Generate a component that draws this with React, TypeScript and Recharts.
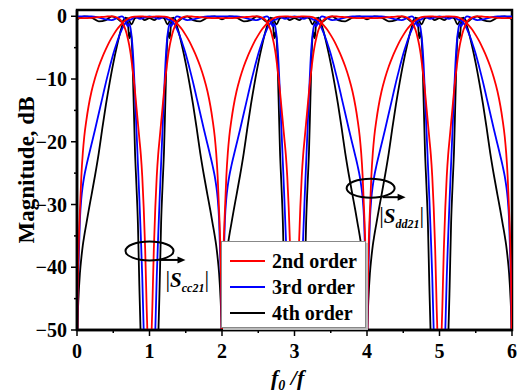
import React from 'react';
import { LineChart, Line, XAxis, YAxis, ReferenceArea, ReferenceDot } from 'recharts';

// f0/f sample points, |Sdd21| curves (nulls at 0, 2, 4, 6)
const ddX = [
  0, 0.005, 0.01, 0.02, 0.04, 0.06, 0.08, 0.1, 0.13, 0.16, 0.2, 0.25, 0.3, 0.35, 0.4, 0.45, 0.5, 0.55, 0.6, 0.65, 0.7, 0.75, 0.8, 0.87, 0.93, 1,
  1.07, 1.13, 1.2, 1.25, 1.3, 1.35, 1.4, 1.45, 1.5, 1.55, 1.6, 1.65, 1.7, 1.75, 1.8, 1.84, 1.87, 1.9, 1.92, 1.94, 1.96, 1.98, 1.99, 1.995, 2,
  2.005, 2.01, 2.02, 2.04, 2.06, 2.08, 2.1, 2.13, 2.16, 2.2, 2.25, 2.3, 2.35, 2.4, 2.45, 2.5, 2.55, 2.6, 2.65, 2.7, 2.75, 2.8, 2.87, 2.93, 3,
  3.07, 3.13, 3.2, 3.25, 3.3, 3.35, 3.4, 3.45, 3.5, 3.55, 3.6, 3.65, 3.7, 3.75, 3.8, 3.84, 3.87, 3.9, 3.92, 3.94, 3.96, 3.98, 3.99, 3.995, 4,
  4.005, 4.01, 4.02, 4.04, 4.06, 4.08, 4.1, 4.13, 4.16, 4.2, 4.25, 4.3, 4.35, 4.4, 4.45, 4.5, 4.55, 4.6, 4.65, 4.7, 4.75, 4.8, 4.87, 4.93, 5,
  5.07, 5.13, 5.2, 5.25, 5.3, 5.35, 5.4, 5.45, 5.5, 5.55, 5.6, 5.65, 5.7, 5.75, 5.8, 5.84, 5.87, 5.9, 5.92, 5.94, 5.96, 5.98, 5.99, 5.995, 6,
];

const dd2nd = [
  -70, -52, -45, -38, -31, -25.5, -21.8, -19.2, -16.5, -14.3, -12, -9.8, -8, -6.5, -5.2, -4, -3, -2.1, -1.4, -0.8, -0.4, -0.15, -0.05, 0, -0.05, -0.1,
  -0.05, 0, -0.05, -0.15, -0.4, -0.8, -1.4, -2.1, -3, -4, -5.2, -6.5, -8, -9.8, -12, -14.3, -16.5, -19.2, -21.8, -25.5, -31, -38, -45, -52, -70,
  -52, -45, -38, -31, -25.5, -21.8, -19.2, -16.5, -14.3, -12, -9.8, -8, -6.5, -5.2, -4, -3, -2.1, -1.4, -0.8, -0.4, -0.15, -0.05, 0, -0.05, -0.1,
  -0.05, 0, -0.05, -0.15, -0.4, -0.8, -1.4, -2.1, -3, -4, -5.2, -6.5, -8, -9.8, -12, -14.3, -16.5, -19.2, -21.8, -25.5, -31, -38, -45, -52, -70,
  -52, -45, -38, -31, -25.5, -21.8, -19.2, -16.5, -14.3, -12, -9.8, -8, -6.5, -5.2, -4, -3, -2.1, -1.4, -0.8, -0.4, -0.15, -0.05, 0, -0.05, -0.1,
  -0.05, 0, -0.05, -0.15, -0.4, -0.8, -1.4, -2.1, -3, -4, -5.2, -6.5, -8, -9.8, -12, -14.3, -16.5, -19.2, -21.8, -25.5, -31, -38, -45, -52, -70,
];

const dd3rd = [
  -70, -50, -45, -40, -32.5, -29, -27, -25.5, -23.8, -22.3, -20.4, -18, -15.5, -13, -10.5, -8.2, -6, -4.2, -2.6, -1.4, -0.7, -0.5, -0.1, -0.4, -0.2, 0,
  -0.2, -0.4, -0.1, -0.5, -0.7, -1.4, -2.6, -4.2, -6, -8.2, -10.5, -13, -15.5, -18, -20.4, -22.3, -23.8, -25.5, -27, -29, -32.5, -40, -45, -50, -70,
  -50, -45, -40, -32.5, -29, -27, -25.5, -23.8, -22.3, -20.4, -18, -15.5, -13, -10.5, -8.2, -6, -4.2, -2.6, -1.4, -0.7, -0.5, -0.1, -0.4, -0.2, 0,
  -0.2, -0.4, -0.1, -0.5, -0.7, -1.4, -2.6, -4.2, -6, -8.2, -10.5, -13, -15.5, -18, -20.4, -22.3, -23.8, -25.5, -27, -29, -32.5, -40, -45, -50, -70,
  -50, -45, -40, -32.5, -29, -27, -25.5, -23.8, -22.3, -20.4, -18, -15.5, -13, -10.5, -8.2, -6, -4.2, -2.6, -1.4, -0.7, -0.5, -0.1, -0.4, -0.2, 0,
  -0.2, -0.4, -0.1, -0.5, -0.7, -1.4, -2.6, -4.2, -6, -8.2, -10.5, -13, -15.5, -18, -20.4, -22.3, -23.8, -25.5, -27, -29, -32.5, -40, -45, -50, -70,
];

const dd4th = [
  -70, -51, -48, -45, -41, -38.5, -36.5, -35, -33, -31, -28.5, -25.3, -21.8, -17.8, -14, -10.6, -7.5, -4.8, -2.4, -0.7, -0.3, -1.3, -0.3, -0.1, -0.6, -0.3,
  -0.6, -0.1, -0.3, -1.3, -0.3, -0.7, -2.4, -4.8, -7.5, -10.6, -14, -17.8, -21.8, -25.3, -28.5, -31, -33, -35, -36.5, -38.5, -41, -45, -48, -51, -70,
  -51, -48, -45, -41, -38.5, -36.5, -35, -33, -31, -28.5, -25.3, -21.8, -17.8, -14, -10.6, -7.5, -4.8, -2.4, -0.7, -0.3, -1.3, -0.3, -0.1, -0.6, -0.3,
  -0.6, -0.1, -0.3, -1.3, -0.3, -0.7, -2.4, -4.8, -7.5, -10.6, -14, -17.8, -21.8, -25.3, -28.5, -31, -33, -35, -36.5, -38.5, -41, -45, -48, -51, -70,
  -51, -48, -45, -41, -38.5, -36.5, -35, -33, -31, -28.5, -25.3, -21.8, -17.8, -14, -10.6, -7.5, -4.8, -2.4, -0.7, -0.3, -1.3, -0.3, -0.1, -0.6, -0.3,
  -0.6, -0.1, -0.3, -1.3, -0.3, -0.7, -2.4, -4.8, -7.5, -10.6, -14, -17.8, -21.8, -25.3, -28.5, -31, -33, -35, -36.5, -38.5, -41, -45, -48, -51, -70,
];

// f0/f sample points, |Scc21| curves (nulls at 1, 3, 5)
const ccX = [
  0, 0.1, 0.2, 0.3, 0.4, 0.48, 0.55, 0.62, 0.67, 0.7, 0.72, 0.74, 0.76, 0.78, 0.8, 0.82, 0.84, 0.86, 0.88, 0.9, 0.92, 0.94, 0.96, 0.98, 1,
  1.02, 1.04, 1.06, 1.08, 1.1, 1.12, 1.14, 1.16, 1.18, 1.2, 1.22, 1.24, 1.26, 1.28, 1.3, 1.33, 1.38, 1.45, 1.52, 1.6, 1.7, 1.8, 1.9, 2,
  2.1, 2.2, 2.3, 2.4, 2.48, 2.55, 2.62, 2.67, 2.7, 2.72, 2.74, 2.76, 2.78, 2.8, 2.82, 2.84, 2.86, 2.88, 2.9, 2.92, 2.94, 2.96, 2.98, 3,
  3.02, 3.04, 3.06, 3.08, 3.1, 3.12, 3.14, 3.16, 3.18, 3.2, 3.22, 3.24, 3.26, 3.28, 3.3, 3.33, 3.38, 3.45, 3.52, 3.6, 3.7, 3.8, 3.9, 4,
  4.1, 4.2, 4.3, 4.4, 4.48, 4.55, 4.62, 4.67, 4.7, 4.72, 4.74, 4.76, 4.78, 4.8, 4.82, 4.84, 4.86, 4.88, 4.9, 4.92, 4.94, 4.96, 4.98, 5,
  5.02, 5.04, 5.06, 5.08, 5.1, 5.12, 5.14, 5.16, 5.18, 5.2, 5.22, 5.24, 5.26, 5.28, 5.3, 5.33, 5.38, 5.45, 5.52, 5.6, 5.7, 5.8, 5.9, 6,
];

const cc2nd = [
  -0.3, -0.3, -0.25, -0.15, -0.05, 0, -0.2, -0.9, -2.2, -3.5, -4.6, -6, -7.8, -9.8, -12, -14.5, -17, -19.5, -22, -25.5, -30.5, -37, -46, -55, -75,
  -55, -46, -37, -30.5, -25.5, -22, -19.5, -17, -14.5, -12, -9.8, -7.8, -6, -4.6, -3.5, -2.2, -0.9, -0.2, 0, -0.05, -0.15, -0.25, -0.3, -0.3,
  -0.3, -0.25, -0.15, -0.05, 0, -0.2, -0.9, -2.2, -3.5, -4.6, -6, -7.8, -9.8, -12, -14.5, -17, -19.5, -22, -25.5, -30.5, -37, -46, -55, -75,
  -55, -46, -37, -30.5, -25.5, -22, -19.5, -17, -14.5, -12, -9.8, -7.8, -6, -4.6, -3.5, -2.2, -0.9, -0.2, 0, -0.05, -0.15, -0.25, -0.3, -0.3,
  -0.3, -0.25, -0.15, -0.05, 0, -0.2, -0.9, -2.2, -3.5, -4.6, -6, -7.8, -9.8, -12, -14.5, -17, -19.5, -22, -25.5, -30.5, -37, -46, -55, -75,
  -55, -46, -37, -30.5, -25.5, -22, -19.5, -17, -14.5, -12, -9.8, -7.8, -6, -4.6, -3.5, -2.2, -0.9, -0.2, 0, -0.05, -0.15, -0.25, -0.3, -0.3,
];

const cc3rd = [
  0, 0, 0, -0.2, -0.5, -0.6, -0.3, 0, -0.7, -1.6, -1.2, -2, -4, -7.5, -12.5, -18, -23.5, -29, -35, -41.5, -50, -56, -62, -70, -75,
  -70, -62, -56, -50, -41.5, -35, -29, -23.5, -18, -12.5, -7.5, -4, -2, -1.2, -1.6, -0.7, 0, -0.3, -0.6, -0.5, -0.2, 0, 0, 0,
  0, 0, -0.2, -0.5, -0.6, -0.3, 0, -0.7, -1.6, -1.2, -2, -4, -7.5, -12.5, -18, -23.5, -29, -35, -41.5, -50, -56, -62, -70, -75,
  -70, -62, -56, -50, -41.5, -35, -29, -23.5, -18, -12.5, -7.5, -4, -2, -1.2, -1.6, -0.7, 0, -0.3, -0.6, -0.5, -0.2, 0, 0, 0,
  0, 0, -0.2, -0.5, -0.6, -0.3, 0, -0.7, -1.6, -1.2, -2, -4, -7.5, -12.5, -18, -23.5, -29, -35, -41.5, -50, -56, -62, -70, -75,
  -70, -62, -56, -50, -41.5, -35, -29, -23.5, -18, -12.5, -7.5, -4, -2, -1.2, -1.6, -0.7, 0, -0.3, -0.6, -0.5, -0.2, 0, 0, 0,
];

const cc4th = [
  -0.5, 0, -0.2, -0.8, -0.6, 0, -0.3, -0.9, -0.2, -0.8, -3.5, -2.5, -5, -13, -21.5, -27, -33, -43, -51.5, -56, -61, -66, -71, -76, -80,
  -76, -71, -66, -61, -56, -51.5, -43, -33, -27, -21.5, -13, -5, -2.5, -3.5, -0.8, -0.2, -0.9, -0.3, 0, -0.6, -0.8, -0.2, 0, -0.5,
  0, -0.2, -0.8, -0.6, 0, -0.3, -0.9, -0.2, -0.8, -3.5, -2.5, -5, -13, -21.5, -27, -33, -43, -51.5, -56, -61, -66, -71, -76, -80,
  -76, -71, -66, -61, -56, -51.5, -43, -33, -27, -21.5, -13, -5, -2.5, -3.5, -0.8, -0.2, -0.9, -0.3, 0, -0.6, -0.8, -0.2, 0, -0.5,
  0, -0.2, -0.8, -0.6, 0, -0.3, -0.9, -0.2, -0.8, -3.5, -2.5, -5, -13, -21.5, -27, -33, -43, -51.5, -56, -61, -66, -71, -76, -80,
  -76, -71, -66, -61, -56, -51.5, -43, -33, -27, -21.5, -13, -5, -2.5, -3.5, -0.8, -0.2, -0.9, -0.3, 0, -0.6, -0.8, -0.2, 0, -0.5,
];

const xTicks = [0, 0.5, 1, 1.5, 2, 2.5, 3, 3.5, 4, 4.5, 5, 5.5, 6];
const yTicks = [-50, -45, -40, -35, -30, -25, -20, -15, -10, -5, 0];

const legendItems = [
  { label: '2nd order', color: '#ff0000' },
  { label: '3rd order', color: '#0000ff' },
  { label: '4th order', color: '#000000' },
];

const FONT = '"Liberation Serif", "Times New Roman", serif';

const toPoints = (xs: number[], ys: number[]) => xs.map((x, i) => ({ x, y: ys[i] }));

const XTick = (props: any) => {
  const { x, y, payload } = props;
  const major = Number.isInteger(payload.value);
  return (
    <g>
      <line x1={x} x2={x} y1={y} y2={y + (major ? 6 : 3)} stroke="#000" strokeWidth={1.5} />
      {major && (
        <text x={x} y={y + 28} textAnchor="middle" fontFamily={FONT} fontWeight="bold" fontSize={20} fill="#000">
          {payload.value}
        </text>
      )}
    </g>
  );
};

const YTick = (props: any) => {
  const { x, y, payload } = props;
  const major = payload.value % 10 === 0;
  const label = payload.value < 0 ? `\u2212${Math.abs(payload.value)}` : `${payload.value}`;
  return (
    <g>
      <line x1={x - (major ? 6 : 3)} x2={x} y1={y} y2={y} stroke="#000" strokeWidth={1.5} />
      {major && (
        <text x={x - 10} y={y} dy="0.35em" textAnchor="end" fontFamily={FONT} fontWeight="bold" fontSize={20} fill="#000">
          {label}
        </text>
      )}
    </g>
  );
};

const Marker = ({ cx, cy, sub, lx, ly, a0, a1 }: any) => (
  <g>
    <ellipse cx={cx} cy={cy} rx={24} ry={9.5} fill="none" stroke="#000" strokeWidth={2} />
    <line x1={cx + a0} x2={cx + a1 - 6} y1={cy + 9} y2={cy + 9} stroke="#000" strokeWidth={2} />
    <polygon points={`${cx + a1},${cy + 9} ${cx + a1 - 8},${cy + 5.5} ${cx + a1 - 8},${cy + 12.5}`} fill="#000" />
    <text x={cx + lx} y={cy + ly} fontFamily={FONT} fill="#000">
      <tspan fontSize={23}>|</tspan>
      <tspan fontSize={21} fontStyle="italic" fontWeight="bold">S</tspan>
      <tspan fontSize={12} fontStyle="italic" fontWeight="bold" dy={5}>{sub}</tspan>
      <tspan fontSize={23} dy={-5}>|</tspan>
    </text>
  </g>
);

export default function App() {
  return (
    <div style={{ position: 'relative', width: 517, height: 392, background: '#fff' }}>
      <style>{'body{margin:0}'}</style>
      <LineChart width={517} height={392} margin={{ top: 10, right: 5, left: 0, bottom: 0 }}>
        <XAxis
          dataKey="x"
          type="number"
          domain={[0, 6]}
          ticks={xTicks}
          interval={0}
          height={62}
          tickSize={0}
          tickMargin={0}
          tick={<XTick />}
          axisLine={{ stroke: '#000', strokeWidth: 2.5 }}
          allowDataOverflow
        />
        <YAxis
          type="number"
          domain={[-50, 1]}
          ticks={yTicks}
          interval={0}
          width={77}
          tickSize={0}
          tickMargin={0}
          tick={<YTick />}
          axisLine={{ stroke: '#000', strokeWidth: 2.5 }}
          allowDataOverflow
        />
        <Line data={toPoints(ddX, dd4th)} dataKey="y" type="monotone" stroke="#000000" strokeWidth={1.8} dot={false} isAnimationActive={false} />
        <Line data={toPoints(ccX, cc4th)} dataKey="y" type="monotone" stroke="#000000" strokeWidth={1.8} dot={false} isAnimationActive={false} />
        <Line data={toPoints(ddX, dd3rd)} dataKey="y" type="monotone" stroke="#0000ff" strokeWidth={1.8} dot={false} isAnimationActive={false} />
        <Line data={toPoints(ccX, cc3rd)} dataKey="y" type="monotone" stroke="#0000ff" strokeWidth={1.8} dot={false} isAnimationActive={false} />
        <Line data={toPoints(ddX, dd2nd)} dataKey="y" type="monotone" stroke="#ff0000" strokeWidth={1.8} dot={false} isAnimationActive={false} />
        <Line data={toPoints(ccX, cc2nd)} dataKey="y" type="monotone" stroke="#ff0000" strokeWidth={1.8} dot={false} isAnimationActive={false} />
        <ReferenceArea x1={0} x2={6} y1={-50} y2={1} fill="none" stroke="#000" strokeWidth={2.5} />
        <ReferenceDot x={1} y={-37.4} r={0} shape={(p: any) => <Marker cx={p.cx} cy={p.cy} sub="cc21" lx={16} ly={36} a0={10} a1={36} />} />
        <ReferenceDot x={4.05} y={-27.4} r={0} shape={(p: any) => <Marker cx={p.cx} cy={p.cy} sub="dd21" lx={8.5} ly={35} a0={12} a1={35} />} />
        <text x={34} y={170} transform="rotate(-90 34 170)" textAnchor="middle" fontFamily={FONT} fontWeight="bold" fontSize={23} fill="#000">
          Magnitude, dB
        </text>
        <text x={271} y={385} fontFamily={FONT} fontWeight="bold" fontStyle="italic" fontSize={22} fill="#000">
          <tspan>f</tspan>
          <tspan fontSize={14} dy={5}>0</tspan>
          <tspan dy={-5}> /f</tspan>
        </text>
      </LineChart>
      <div
        style={{
          position: 'absolute', left: 221, top: 241, width: 145, height: 87,
          background: '#fff', border: '1px solid #888', boxShadow: '2px 2px 0 #bbb',
          fontFamily: FONT, fontWeight: 'bold', fontSize: 20, boxSizing: 'border-box',
        }}
      >
        {legendItems.map((it, i) => (
          <div key={it.label} style={{ position: 'absolute', left: 8, top: 7 + i * 26, height: 24, display: 'flex', alignItems: 'center' }}>
            <span style={{ display: 'inline-block', width: 35, height: 2, background: it.color, marginRight: 7 }} />
            <span style={{ lineHeight: '24px', whiteSpace: 'nowrap' }}>{it.label}</span>
          </div>
        ))}
      </div>
    </div>
  );
}
